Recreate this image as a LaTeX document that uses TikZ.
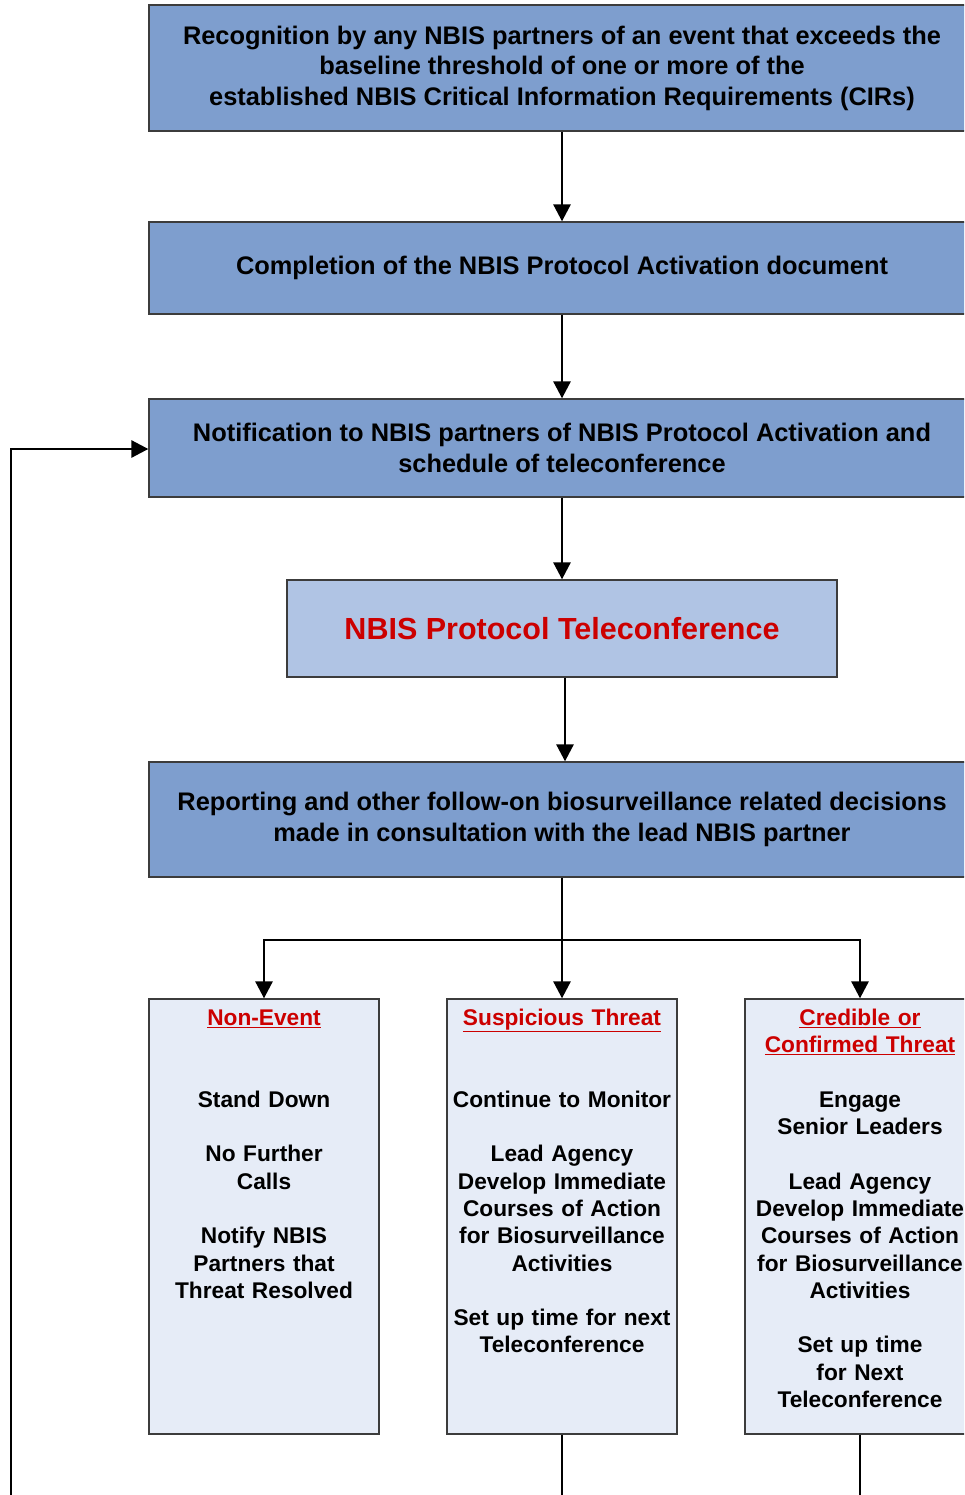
\documentclass[tikz,border=0pt]{standalone}
\usepackage{fontspec}
\setmainfont{Liberation Sans}
\usetikzlibrary{arrows.meta}
\definecolor{boxblue}{HTML}{7E9ECE}
\definecolor{lightblue}{HTML}{B0C4E4}
\definecolor{paleblue}{HTML}{E6ECF7}
\definecolor{redtxt}{HTML}{CC0000}
\definecolor{edge}{HTML}{3C3C3C}
\newcommand{\blankln}{\mbox{}\strut}
\begin{document}
\begin{tikzpicture}[x=1pt,y=-1pt,
  bigbox/.style={draw=edge, line width=1.3pt, fill=boxblue, inner sep=0pt, align=center,
     font=\bfseries\fontsize{25.4}{30.5}\selectfont},
  telebox/.style={draw=edge, line width=1.3pt, fill=lightblue, inner sep=0pt, align=center,
     text=redtxt, font=\bfseries\fontsize{30.5}{36}\selectfont},
  outbox/.style={draw=edge, line width=1.3pt, fill=paleblue, inner sep=0pt,
     minimum width=230pt, minimum height=435pt},
  outtext/.style={inner sep=0pt, anchor=north, align=center, text width=226pt,
     font=\bfseries\fontsize{22.7}{27.3}\selectfont},
  conn/.style={line width=2.8pt, draw=black},
  arr/.style={conn, -{Triangle[length=17pt,width=17pt]}}
]
\useasboundingbox (0,0) rectangle (964,1495);
\clip (0,0) rectangle (964,1495);

\node[bigbox, minimum width=826pt, minimum height=126pt] (b1) at (562,68)
  {Recognition by any NBIS partners of an event that exceeds the\\
   baseline threshold of one or more of the\\
   established NBIS Critical Information Requirements (CIRs)};
\node[bigbox, minimum width=826pt, minimum height=92pt] (b2) at (562,268)
  {Completion of the NBIS Protocol Activation document};
\node[bigbox, minimum width=826pt, minimum height=98pt] (b3) at (562,448)
  {Notification to NBIS partners of NBIS Protocol Activation and\\
   schedule of teleconference};
\node[telebox, minimum width=550pt, minimum height=97pt] (b4) at (562,628.5)
  {NBIS Protocol Teleconference};
\node[bigbox, minimum width=826pt, minimum height=115pt] (b5) at (562,819.5)
  {Reporting and other follow-on biosurveillance related decisions\\
   made in consultation with the lead NBIS partner};

\node[outbox] (n1) at (264,1216.5) {};
\node[outbox] (n2) at (562,1216.5) {};
\node[outbox] (n3) at (860,1216.5) {};

\node[outtext] (t1) at (264,1006)
  {\strut\textcolor{redtxt}{\underline{Non-Event}}\\ \blankln\\ \blankln\\
   Stand Down\\ \blankln\\ No Further\\ Calls\\ \blankln\\ Notify NBIS\\ Partners that\\ Threat Resolved};
\node[outtext] (t2) at (562,1006)
  {\strut\textcolor{redtxt}{\underline{Suspicious Threat}}\\ \blankln\\ \blankln\\
   Continue to Monitor\\ \blankln\\ Lead Agency\\ Develop Immediate\\ Courses of Action\\
   for Biosurveillance\\ Activities\\ \blankln\\ Set up time for next\\ Teleconference};
\node[outtext] (t3) at (860,1006)
  {\strut\textcolor{redtxt}{\underline{Credible or}}\\ \textcolor{redtxt}{\underline{Confirmed Threat}}\\ \blankln\\
   Engage\\ Senior Leaders\\ \blankln\\ Lead Agency\\ Develop Immediate\\ Courses of Action\\
   for Biosurveillance\\ Activities\\ \blankln\\ Set up time\\ for Next\\ Teleconference};

\draw[arr] (b1.south) -- (b2.north);
\draw[arr] (b2.south) -- (b3.north);
\draw[arr] (b3.south) -- (b4.north);
\draw[arr] ([xshift=3pt]b4.south) -- ([xshift=3pt]b5.north);

\coordinate (split) at (562,940);
\draw[arr] (b5.south) -- (n2.north);
\draw[arr] (split) -| (n1.north);
\draw[arr] (split) -| (n3.north);

\coordinate (e2) at (562,1505);
\coordinate (e3) at (860,1505);
\coordinate (loopb) at (11,1505);
\draw[conn] (n2.south) -- (e2);
\draw[conn] (n3.south) -- (e3);
\draw[arr] (loopb) |- ([yshift=-1pt]b3.west);
\end{tikzpicture}
\end{document}
